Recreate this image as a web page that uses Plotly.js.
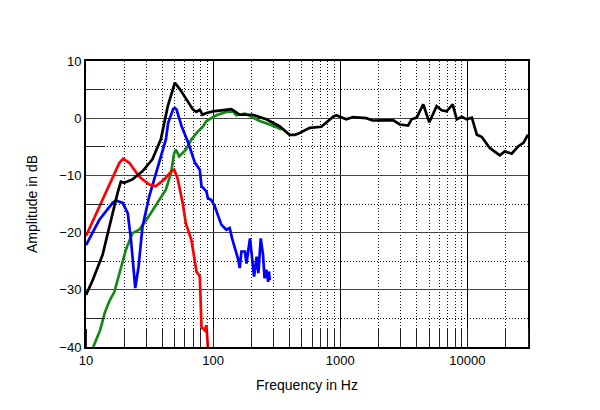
<!DOCTYPE html>
<html><head><meta charset="utf-8">
<script src="https://cdn.plot.ly/plotly-3.0.1.min.js"></script>
<style>body{margin:0;background:#fff}#c{width:600px;height:410px}</style>
</head><body><div id="c"></div>
<script>
const blackF = [10,11.3,13.5,15.7,17.7,18.8,20,23.2,27.8,33.3,38.8,44,50,55,61.6,69.5,74,78.6,82.5,88.6,100,127,139,148,162,204,262,333,400,440,480,575,710,880,930,1115,1260,1600,1800,2600,2940,3420,3640,3990,4500,5020,5730,6280,6870,7670,8250,9030,9890,10850,11890,13000,15000,18000,19700,22300,25200,27600,30000];
const blackA = [-30.9,-28.3,-23.9,-17.8,-13.1,-11.1,-11.3,-10.7,-9.3,-7.2,-3.7,2.1,6.2,5.0,3.3,1.5,1.1,1.5,0.6,0.9,1.2,1.4,1.6,1.2,0.6,0.6,-0.2,-1.4,-2.9,-2.9,-2.6,-1.7,-1.5,0.25,0.5,-0.2,0.2,0,-0.4,-0.35,-1.1,-1.3,-0.2,0.1,2.4,-0.7,2.1,1.4,1.2,2.4,-0.2,0.25,-0.2,0.1,-2.9,-3.3,-5.2,-6.5,-5.8,-6.2,-4.9,-4.3,-2.9];

const redF = [10,13.1,16.2,18.3,19.6,21.9,26.2,31.4,35.3,41.3,46.9,49.4,52.5,57.6,61,67.5,74,78.6,81,86,88.6,91];
const redA = [-20.6,-14.8,-10.2,-7.8,-7.1,-7.8,-10.2,-11.6,-11.9,-10.7,-9.3,-9.0,-10.5,-14.8,-18.4,-21.3,-26.8,-27.7,-36.5,-37.1,-36.2,-40];

const blueF = [10,12.7,16.2,17.2,19.4,21.3,22.6,24.4,25.9,27.8,31.4,36.6,42.5,44.3,48.5,50,51.6,56.5,63.7,72,78.6,81,88.6,91,97,103,110,116,127,135,141,148,158,162,167,178,183,195,204,210,220,227,237,247,254,262,271,275,279];
const blueA = [-22.2,-17.8,-14.8,-14.4,-14.8,-16.6,-21.3,-29.7,-26,-19,-13.7,-8.4,-3.7,-0.8,1.6,1.8,1.5,-1.4,-4.3,-7.8,-9.0,-11.9,-12.8,-14.0,-14.3,-15.4,-17.2,-18.6,-19.5,-19.2,-21,-22.5,-24.8,-26.2,-23.3,-23.3,-25.4,-21,-24.8,-27.7,-24.2,-27.1,-21,-23.9,-28,-26.5,-28.6,-26.8,-28.3];

const greenF = [11.4,12.9,14.1,15.4,16.7,18.3,20.6,23.2,26.2,30.5,36.6,42.5,46.6,49.4,51,54,61,67.6,76,83.6,88.6,106,127,143,152,178,205,233,296,344];
const greenA = [-40,-37.1,-33.9,-31.8,-30.4,-27.1,-23,-20.1,-19.5,-17.5,-14.8,-12.5,-9.6,-6.1,-5.5,-6.7,-5.5,-3.7,-2.3,-1.4,-0.5,0.5,1.1,1.2,0.5,0.8,0.1,-0.5,-1.3,-2.0];

const xTicks = [10,100,1000,10000];
const xTickText = ['10','100','1000','10000'];

const lw = 2.7;
const traces = [
  {x: greenF, y: greenA, mode:'lines', line:{color:'#138a13', width:lw}},
  {x: blueF, y: blueA, mode:'lines', line:{color:'#0000ff', width:lw}},
  {x: redF, y: redA, mode:'lines', line:{color:'#ff0000', width:lw}},
  {x: blackF, y: blackA, mode:'lines', line:{color:'#000000', width:lw}}
];
const font = {family:'Liberation Sans, Arial, sans-serif', size:13, color:'#000'};
const tfont = {family:'Liberation Sans, Arial, sans-serif', size:14, color:'#000'};
const layout = {
  width:600, height:410,
  margin:{l:86, r:72, t:61, b:63},
  paper_bgcolor:'#fff', plot_bgcolor:'#fff',
  showlegend:false,
  font: font,
  xaxis:{
    type:'log', range:[1, Math.log10(30000)],
    tickmode:'array', tickvals:xTicks, ticktext:xTickText,
    ticks:'', showgrid:true, gridcolor:'#000', gridwidth:1,
    showline:true, linecolor:'#000', linewidth:2, mirror:true,
    zeroline:false, tickfont:font,
    minor:{dtick:'D1', ticks:'inside', ticklen:18, tickcolor:'#222', tickwidth:1, showgrid:true, gridcolor:'#111', griddash:'1px,2px', gridwidth:1},
    title:{text:'Frequency in Hz', font:tfont, standoff:14}
  },
  yaxis:{
    range:[-40,10], tickmode:'linear', tick0:0, dtick:10,
    ticks:'', showgrid:true, gridcolor:'#444', gridwidth:1,
    showline:true, linecolor:'#000', linewidth:2, mirror:true,
    zeroline:false, tickfont:font,
    minor:{dtick:5, ticks:'inside', ticklen:18, tickcolor:'#222', tickwidth:1, showgrid:true, gridcolor:'#111', griddash:'1px,2px', gridwidth:1},
    title:{text:'Amplitude in dB', font:tfont, standoff:18}
  }
};
Plotly.newPlot('c', traces, layout, {staticPlot:true, displayModeBar:false});
</script></body></html>
